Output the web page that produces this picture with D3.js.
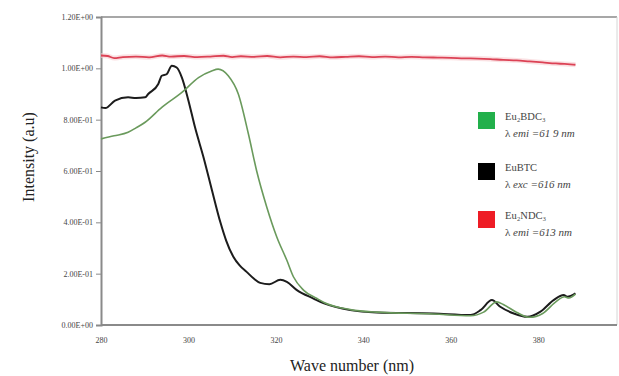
<!DOCTYPE html>
<html><head><meta charset="utf-8">
<script src="https://cdn.jsdelivr.net/npm/d3@7"></script>
<style>
body{margin:0;background:#fff;}
svg{display:block;font-family:"Liberation Serif","Times New Roman",serif;}
</style></head>
<body><svg id="c" width="619" height="376"></svg>
<script>
const yTicks = [0, 0.2, 0.4, 0.6, 0.8, 1.0, 1.2];
const yTickLabels = ["0.00E+00","2.00E-01","4.00E-01","6.00E-01","8.00E-01","1.00E+00","1.20E+00"];
const xTicks = [280, 300, 320, 340, 360, 380];

const seriesNames = ["Eu\u2082BDC\u2083", "EuBTC", "Eu\u2082NDC\u2083"];
const seriesSub = ["emi =61 9 nm", "exc =616 nm", "emi =613 nm"];

const greenData = [[280,0.725],[283,0.737],[286.2,0.751],[288,0.768],[290.1,0.79],[293.9,0.848],[298.5,0.906],[302.3,0.964],[305.3,0.99],[306.8,0.997],[309.1,0.971],[311.4,0.90],[313.7,0.745],[315.6,0.60],[317.9,0.46],[320.2,0.343],[322.5,0.252],[324,0.188],[326.3,0.136],[329.4,0.103],[331,0.088],[337,0.06],[343,0.05],[356,0.043],[364.5,0.036],[367.5,0.05],[370.5,0.09],[372,0.08],[375,0.05],[378,0.03],[381,0.045],[384,0.09],[386,0.11],[387,0.105],[388.5,0.12]];

const blackData = [[280,0.848],[281,0.845],[283.2,0.874],[286.2,0.887],[288,0.884],[290.1,0.887],[290.8,0.90],[293.1,0.939],[293.9,0.971],[295,0.977],[296.2,1.01],[297.3,1.003],[298.5,0.964],[300,0.874],[301.5,0.77],[303.5,0.65],[305.3,0.53],[307.3,0.40],[308.6,0.33],[310.3,0.265],[311.7,0.232],[313.3,0.207],[315,0.18],[316.4,0.164],[318.5,0.159],[321,0.176],[322.5,0.168],[324.8,0.136],[328.6,0.103],[331,0.084],[337,0.058],[343,0.049],[356,0.045],[364.5,0.039],[366.8,0.058],[369.4,0.097],[371.3,0.071],[374.4,0.045],[377.5,0.032],[380.5,0.052],[383.5,0.097],[385.8,0.117],[386.6,0.11],[388.5,0.123]];

const redData = [[280,1.05],[281.5,1.048],[283,1.04],[285,1.044],[288,1.046],[291,1.043],[294,1.05],[296,1.046],[299,1.048],[302,1.044],[305,1.046],[308,1.049],[310,1.044],[312,1.047],[315,1.045],[318,1.048],[321,1.043],[324,1.046],[327,1.044],[330,1.047],[333,1.043],[336,1.045],[339,1.047],[342,1.044],[345,1.046],[348,1.043],[351,1.045],[354,1.043],[357,1.042],[360,1.041],[363,1.039],[366,1.038],[369,1.036],[372,1.033],[375,1.031],[378,1.027],[381,1.023],[384,1.019],[386,1.017],[388.5,1.014]];

const colors = ["#6a9a5c", "#1c1c1c", "#dc4255"];
const legendColors = ["#22b04b", "#000000", "#ee1c25"];

const svg = d3.select("#c");
const x = d3.scaleLinear().domain([280, 398]).range([101, 617]);
const y = d3.scaleLinear().domain([0, 1.2]).range([325, 17]);

// frame
const axisColor = "#8a8a8a";
svg.append("line").attr("x1", x(280)).attr("x2", x(398)).attr("y1", y(1.2)).attr("y2", y(1.2)).attr("stroke", axisColor).attr("stroke-width", 1.5);
svg.append("line").attr("x1", x(398)).attr("x2", x(398)).attr("y1", y(1.2)).attr("y2", y(0)).attr("stroke", "#d6d6d6").attr("stroke-width", 1);

// axes
const yAxis = d3.axisLeft(y).tickValues(yTicks).tickFormat((d,i)=>yTickLabels[i]).tickSize(5).tickPadding(3);
const gy = svg.append("g").attr("transform", `translate(${x(280)},0)`).call(yAxis);
const xAxis = d3.axisBottom(x).tickValues(xTicks).tickFormat(d3.format("d")).tickSize(0).tickPadding(12);
const gx = svg.append("g").attr("transform", `translate(0,${y(0)})`).call(xAxis);
[gy, gx].forEach(g=>{
  g.attr("font-family", "Liberation Serif, Times New Roman, serif").attr("font-size", 8);
  g.select(".domain").attr("stroke", axisColor).attr("stroke-width", 2);
  g.selectAll(".tick line").attr("stroke", axisColor);
  g.selectAll(".tick text").attr("fill", "#444");
});
gx.select(".domain").attr("d", `M${x(280)},0H${x(398)}`);

// lines
const line = d3.line().x(d=>x(d[0])).y(d=>y(d[1])).curve(d3.curveMonotoneX);
const data = [greenData, blackData, redData];
const widths = [1.6, 2, 1.8];
// red glow
svg.append("path").datum(redData).attr("d", line).attr("fill","none").attr("stroke","#f7cdd1").attr("stroke-width",5).attr("opacity",0.6);
[2,1,0].forEach(i=>{
  svg.append("path").datum(data[i]).attr("d", line).attr("fill","none")
    .attr("stroke", colors[i]).attr("stroke-width", widths[i]).attr("stroke-linejoin","round");
});

// axis titles
svg.append("text").attr("transform", `translate(34,157) rotate(-90)`).attr("text-anchor","middle")
  .style("font-size","16px").attr("fill","#222").text("Intensity (a.u)");
svg.append("text").attr("x", 352).attr("y", 371).attr("text-anchor","middle")
  .style("font-size","16px").attr("fill","#222").text("Wave number (nm)");

// legend
const legY = [112, 163, 211];
seriesNames.forEach((n,i)=>{
  const g = svg.append("g").attr("transform", `translate(478,${legY[i]})`);
  g.append("rect").attr("width",17).attr("height",17).attr("fill", legendColors[i]);
  g.append("text").attr("x",27).attr("y",8).style("font-size","10.5px").attr("fill","#444").text(n);
  const t = g.append("text").attr("x",27).attr("y",25).style("font-size","11px").attr("fill","#444");
  t.append("tspan").text("\u03bb ");
  t.append("tspan").style("font-style","italic").text(seriesSub[i]);
});
</script></body></html>
